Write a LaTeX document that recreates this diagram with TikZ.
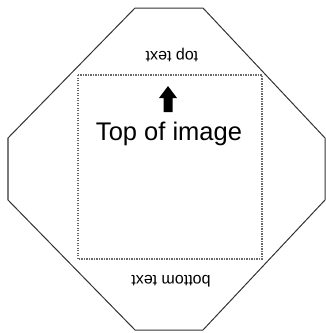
\documentclass[tikz,border=0pt]{standalone}
\usepackage{fontspec}
\setmainfont{Liberation Sans}
\usetikzlibrary{positioning}
\definecolor{edge}{HTML}{333333}
\definecolor{frame}{HTML}{6A6A6A}

\tikzset{
  outline/.style={draw=edge, line width=1pt, line join=miter},
  cropbox/.style={draw=frame, line width=1.1pt, dash pattern=on 1.4pt off 1.1pt},
  flipped/.style={rotate=180, inner sep=0pt, font=\fontsize{16}{18}\selectfont},
  caption/.style={inner sep=0pt, anchor=base, font=\fontsize{25.5}{28}\selectfont}
}

\begin{document}
\begin{tikzpicture}[x=1pt, y=-1pt]
    \useasboundingbox (0,0) rectangle (326,333);

    % octagon outline
    \draw[outline] (135,8) -- (203,8) -- (325,138) -- (325,200)
      -- (203,330) -- (135,330) -- (8,200) -- (8,138) -- cycle;

    % dotted image area
    \draw[cropbox] (78,75) rectangle (262,259);

    % upward block arrow
    \fill[black] (168,86) -- (177,98) -- (172.5,98) -- (172.5,112)
      -- (163.5,112) -- (163.5,98) -- (159,98) -- cycle;

    \node[caption] (title) at (169,140) {Top of image};
    \node[flipped] (toptext) at (172,55) {top text};
    \node[flipped] (bottomtext) at (171,281) {bottom text};
  \end{tikzpicture}
\end{document}
